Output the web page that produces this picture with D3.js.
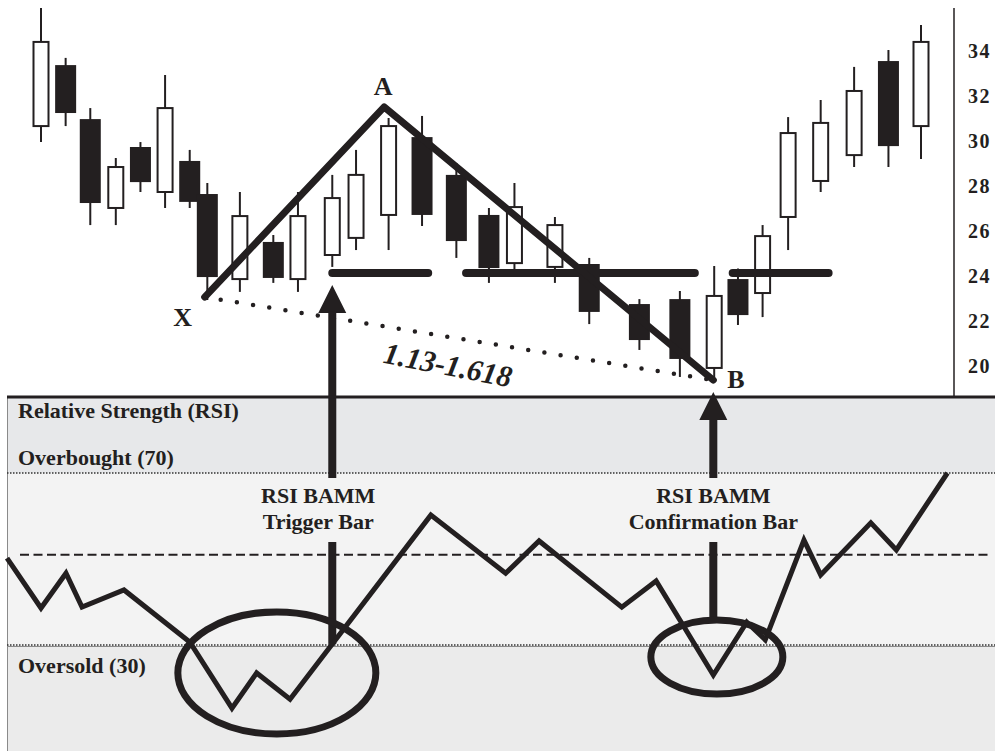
<!DOCTYPE html>
<html>
<head>
<meta charset="utf-8">
<script src="https://cdn.jsdelivr.net/npm/d3@7/dist/d3.min.js"></script>
<style>
body { margin: 0; background: #fff; }
svg text { font-family: "Liberation Serif", "Times New Roman", serif; font-weight: bold; fill: #231f20; }
</style>
</head>
<body>
<script>
"use strict"
const W = 995, H = 751;
const ink = '#231f20';

// candles: session position, open, high, low, close
const barT  = [0, 2.8, 5.6, 8.5, 11.3, 14.1, 16.9, 18.9, 22.6, 26.4, 29.2, 33.1, 35.8, 39.5, 43.3,
               47.2, 50.9, 53.8, 58.4, 62.3, 68.0, 72.6, 76.5, 79.2, 82.0, 84.9, 88.6, 92.4, 96.3, 100];
const opens = [30.53, 33.24, 30.84, 26.89, 29.6, 27.6, 28.98, 27.51, 23.73, 25.38, 23.73, 24.8, 25.56, 26.58, 30.04,
               28.36, 26.58, 24.44, 24.27, 24.4, 22.62, 22.84, 19.78, 23.73, 23.11, 26.49, 28.09, 29.24, 33.42, 30.53];
const highs = [35.78, 33.56, 31.33, 29.11, 29.82, 32.8, 29.47, 28.0, 27.6, 25.69, 27.6, 28.36, 29.47, 30.89, 30.98,
               28.89, 26.89, 28.0, 26.49, 24.67, 22.84, 23.2, 24.31, 24.2, 26.13, 30.93, 31.69, 33.16, 33.91, 35.02];
const lows  = [29.82, 30.53, 26.13, 26.13, 27.6, 26.89, 26.89, 22.8, 23.16, 23.56, 23.16, 24.27, 25.02, 25.02, 26.09,
               24.67, 23.56, 24.0, 23.56, 21.73, 20.58, 19.38, 19.24, 21.69, 22.04, 25.02, 27.6, 28.71, 28.71, 29.07];
const closes= [34.27, 31.11, 27.11, 28.71, 28.04, 31.33, 27.16, 23.82, 26.53, 23.78, 26.53, 27.33, 28.36, 30.53, 26.58,
               25.42, 24.22, 26.93, 26.13, 22.27, 21.02, 20.18, 22.98, 22.13, 25.64, 30.22, 30.67, 32.09, 29.64, 34.27];

const priceTicks = [20, 22, 24, 26, 28, 30, 32, 34];

// RSI line
const rsiT   = [-3.86, 0, 2.84, 4.66, 9.43, 16.9, 21.7, 24.5, 28.3, 44.3, 52.8, 56.6, 66.0, 69.9, 76.4,
                80.2, 82.3, 86.7, 88.6, 94.3, 97.2, 103];
const rsiVal = [50.2, 38.6, 46.7, 38.8, 42.8, 30.7, 15.3, 23.5, 17.4, 60.2, 46.7, 54.2, 38.8, 44.9, 23.0,
                35.3, 31.2, 54.4, 46.3, 58.4, 52.1, 70.0];
const overbought = 70, oversold = 30, midLevel = 51;

// XAB pattern
const patNames = ['X', 'A', 'B'];
const patT     = [18.6, 39, 76.4];
const patPrice = [22.93, 31.38, 19.24];

// support level segments at 24
const levelPrice = 24;
const levelFrom = [33.1, 48.3, 78.6];
const levelTo   = [44.0, 74.3, 89.5];

// trigger / confirmation
const noteT     = [33.1, 76.4];
const noteTextT = [31.5, 76.4];
const noteLines = [['RSI BAMM', 'Trigger Bar'], ['RSI BAMM', 'Confirmation Bar']];
const ringT   = [26.8, 76.8], ringRsi = [23.5, 27.2];
const ringRT  = [11.25, 7.5], ringRR  = [14.2, 8.6];

const x  = d3.scaleLinear().domain([0, 100]).range([41, 921]);
const yP = d3.scaleLinear().domain([20, 34]).range([363, 48]);
const yR = d3.scaleLinear().domain([oversold, overbought]).range([645, 473]);
const divY = 397, panelX = 7, axisX = 954;

const svg = d3.select('body').append('svg').attr('width', W).attr('height', H);

// ---- RSI panel background
svg.append('rect').attr('x', panelX).attr('y', divY).attr('width', W - panelX).attr('height', yR(overbought) - divY).attr('fill', '#e7e8ea');
svg.append('rect').attr('x', panelX).attr('y', yR(overbought)).attr('width', W - panelX).attr('height', yR(oversold) - yR(overbought)).attr('fill', '#f3f3f3');
svg.append('rect').attr('x', panelX).attr('y', yR(oversold)).attr('width', W - panelX).attr('height', H - yR(oversold)).attr('fill', '#ebebeb');
svg.append('line').attr('x1', panelX + 0.5).attr('x2', panelX + 0.5).attr('y1', divY).attr('y2', H).attr('stroke', '#8a8a8a').attr('stroke-width', 1);
svg.append('line').attr('x1', panelX).attr('x2', W).attr('y1', yR(oversold) + 1.5).attr('y2', yR(oversold) + 1.5).attr('stroke', '#8a8a8a').attr('stroke-width', 1);
[overbought, oversold].forEach(v => {
	svg.append('line').attr('x1', panelX).attr('x2', W).attr('y1', yR(v)).attr('y2', yR(v))
		.attr('stroke', '#333').attr('stroke-width', 1.5).attr('stroke-dasharray', '1.5,1.5');
});
svg.append('line').attr('x1', 20).attr('x2', 990).attr('y1', yR(midLevel)).attr('y2', yR(midLevel))
	.attr('stroke', ink).attr('stroke-width', 2).attr('stroke-dasharray', '9,4.5');

svg.append('text').attr('x', 18).attr('y', 418).attr('font-size', 22).text('Relative Strength (RSI)');
svg.append('text').attr('x', 18).attr('y', 465).attr('font-size', 22).text('Overbought (70)');
svg.append('text').attr('x', 18).attr('y', 673).attr('font-size', 22).text('Oversold (30)');

// ---- price axis
svg.append('line').attr('x1', axisX).attr('x2', axisX).attr('y1', 8).attr('y2', divY).attr('stroke', ink).attr('stroke-width', 1.5);
const axis = svg.append('g').attr('transform', `translate(${axisX},0)`)
	.call(d3.axisRight(yP).tickValues(priceTicks).tickSize(0).tickPadding(14));
axis.select('.domain').remove();
axis.selectAll('text').attr('font-size', 20).attr('dy', '0.45em').attr('fill', ink)
	.style('letter-spacing', '1.5px')
	.style('font-family', '"Liberation Serif", serif').style('font-weight', 'bold');

// ---- candles
const candles = barT.map((t, i) => ({t, o: opens[i], h: highs[i], l: lows[i], c: closes[i]}));
const cg = svg.append('g');
cg.selectAll('line').data(candles).enter().append('line')
	.attr('x1', d => x(d.t)).attr('x2', d => x(d.t))
	.attr('y1', d => yP(d.h)).attr('y2', d => yP(d.l))
	.attr('stroke', ink).attr('stroke-width', 2);
cg.selectAll('rect').data(candles).enter().append('rect')
	.attr('x', d => x(d.t) - (d.c >= d.o ? 7.5 : 10.5))
	.attr('width', d => d.c >= d.o ? 15 : 21)
	.attr('y', d => yP(Math.max(d.o, d.c)))
	.attr('height', d => Math.abs(yP(d.o) - yP(d.c)))
	.attr('fill', d => d.c >= d.o ? '#fff' : ink)
	.attr('stroke', d => d.c >= d.o ? ink : 'none')
	.attr('stroke-width', 2);

// ---- level lines
levelFrom.forEach((t, i) => {
	svg.append('line').attr('x1', x(t)).attr('x2', x(levelTo[i])).attr('y1', yP(levelPrice)).attr('y2', yP(levelPrice))
		.attr('stroke', ink).attr('stroke-width', 8).attr('stroke-linecap', 'round');
});

// ---- XAB pattern
const pts = patT.map((t, i) => [x(t), yP(patPrice[i])]);
svg.append('path').attr('d', d3.line()(pts)).attr('fill', 'none').attr('stroke', ink)
	.attr('stroke-width', 7).attr('stroke-linejoin', 'round').attr('stroke-linecap', 'round');
svg.append('line').attr('x1', pts[0][0] + 16).attr('y1', pts[0][1] + 2.6).attr('x2', pts[2][0]).attr('y2', pts[2][1])
	.attr('stroke', ink).attr('stroke-width', 4.5).attr('stroke-linecap', 'round').attr('stroke-dasharray', '0,16.4');
svg.append('text').attr('x', pts[0][0] - 22).attr('y', pts[0][1] + 29).attr('font-size', 26).attr('text-anchor', 'middle').text(patNames[0]);
svg.append('text').attr('x', pts[1][0] - 1).attr('y', pts[1][1] - 12).attr('font-size', 26).attr('text-anchor', 'middle').text(patNames[1]);
svg.append('text').attr('x', pts[2][0] + 14).attr('y', pts[2][1] + 8).attr('font-size', 26).text(patNames[2]);
svg.append('text').attr('transform', 'translate(446,375) rotate(11)').attr('text-anchor', 'middle')
	.attr('font-size', 30).attr('font-style', 'italic').text('1.13-1.618');

// ---- arrows + labels
const rsiAt = t => { const i = d3.bisectLeft(rsiT, t); const f = (t - rsiT[i - 1]) / (rsiT[i] - rsiT[i - 1]); return rsiVal[i - 1] + f * (rsiVal[i] - rsiVal[i - 1]); };
const tipY = [yP(lows[11]) + 18, divY - 5];
noteT.forEach((t, i) => {
	const cx = x(t);
	svg.append('path').attr('d', `M${cx},${tipY[i]} L${cx + 14},${tipY[i] + 28} L${cx - 14},${tipY[i] + 28} Z`).attr('fill', ink);
	svg.append('rect').attr('x', cx - 4).attr('width', 8).attr('y', tipY[i] + 27).attr('height', yR(overbought) + 5 - tipY[i] - 27).attr('fill', ink);
	const endY = i === 0 ? yR(rsiAt(t)) : yR(ringRsi[1] + ringRR[1]);
	svg.append('rect').attr('x', cx - 4).attr('width', 8).attr('y', 542).attr('height', endY - 542).attr('fill', ink);
	noteLines[i].forEach((s, j) => {
		svg.append('text').attr('x', x(noteTextT[i])).attr('y', 503 + j * 26).attr('font-size', 22).attr('text-anchor', 'middle').text(s);
	});
});

// ---- RSI line and rings
svg.append('path').attr('d', d3.line().x(d => x(d[0])).y(d => yR(d[1]))(rsiT.map((t, i) => [t, rsiVal[i]])))
	.attr('fill', 'none').attr('stroke', ink).attr('stroke-width', 5).attr('stroke-linejoin', 'miter');
ringT.forEach((t, i) => {
	svg.append('ellipse').attr('cx', x(t)).attr('cy', yR(ringRsi[i]))
		.attr('rx', x(ringRT[i]) - x(0)).attr('ry', yR(0) - yR(ringRR[i]))
		.attr('fill', 'none').attr('stroke', ink).attr('stroke-width', 7);
});

// divider
svg.append('line').attr('x1', panelX).attr('x2', W).attr('y1', divY).attr('y2', divY).attr('stroke', ink).attr('stroke-width', 3);
</script>
</body>
</html>
